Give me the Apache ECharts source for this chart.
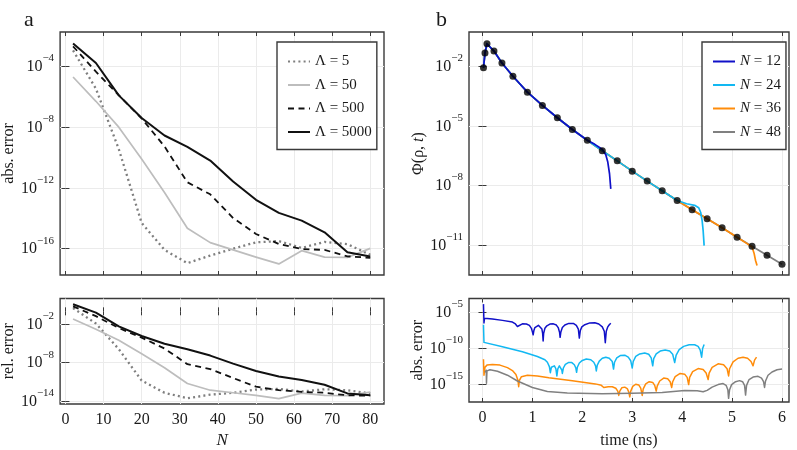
<!DOCTYPE html>
<html>
<head>
<meta charset="utf-8">
<title>error convergence</title>
<script src="https://cdn.jsdelivr.net/npm/echarts@6/dist/echarts.min.js"></script>
<style>
html, body { margin: 0; padding: 0; background: #fff; }
#chart { width: 797px; height: 450px; }
</style>
</head>
<body>
<div id="chart"></div>
<script>
//------------------------ data (y values are log10) ------------------//
var nValues = [2, 8, 14, 20, 26, 32, 38, 44, 50, 56, 62, 68, 74, 80];

// panel a, abs. error
var absLam5    = [-2.95, -5.47, -9.45, -14.3, -16.08, -16.95, -16.45, -16.0, -15.58, -15.5, -15.95, -15.55, -15.7, -16.4];
var absLam50   = [-4.7, -6.3, -8.0, -10.1, -12.3, -14.65, -15.6, -16.08, -16.55, -17.0, -16.13, -16.55, -16.57, -15.98];
var absLam500  = [-2.68, -4.35, -5.9, -7.43, -9.27, -11.63, -12.42, -13.98, -15.03, -15.69, -16.02, -16.08, -16.5, -16.6];
var absLam5000 = [-2.5, -3.78, -5.91, -7.4, -8.55, -9.3, -10.2, -11.58, -12.78, -13.64, -14.15, -14.92, -16.24, -16.51];

// panel a, rel. error
var relLam5    = [0.5, -1.9, -5.9, -10.8, -12.7, -13.55, -13.0, -12.7, -12.2, -12.1, -12.5, -12.15, -12.3, -12.8];
var relLam50   = [-1.2, -2.8, -4.5, -6.6, -8.8, -11.25, -12.3, -12.7, -13.1, -13.6, -12.75, -13.1, -13.15, -12.6];
var relLam500  = [0.78, -0.75, -2.6, -4.1, -5.8, -8.25, -9.0, -10.4, -11.75, -12.3, -12.55, -12.7, -13.1, -13.15];
var relLam5000 = [1.1, -0.2, -2.35, -3.85, -5.05, -5.9, -6.9, -8.15, -9.3, -10.15, -10.7, -11.45, -12.8, -13.1];

// panel b, reference points of Phi(rho, t)
var markTimes = [0.02, 0.05, 0.09, 0.23, 0.39, 0.61, 0.9, 1.2, 1.5, 1.8, 2.1, 2.4, 2.7, 3.0, 3.3, 3.6, 3.9, 4.2, 4.5, 4.8, 5.1, 5.4, 5.7, 6.0];
var markPhi   = [-2.07, -1.33, -0.86, -1.23, -1.83, -2.5, -3.3, -3.97, -4.59, -5.18, -5.72, -6.25, -6.76, -7.28, -7.78, -8.27, -8.76, -9.22, -9.68, -10.13, -10.61, -11.06, -11.52, -11.97];

// panel b, approximations [t, log10 Phi]
var phiN12 = [[0.02, -2.07], [0.05, -1.33], [0.09, -0.86], [0.23, -1.23], [0.39, -1.83], [0.61, -2.5], [0.9, -3.3], [1.2, -3.97], [1.5, -4.59], [1.8, -5.18], [2.1, -5.72],
    [2.25, -5.93], [2.4, -6.18], [2.47, -6.45], [2.51, -6.82], [2.545, -7.41], [2.57, -8.17]];
var phiN24 = [[0.02, -2.07], [0.05, -1.33], [0.09, -0.86], [0.23, -1.23], [0.39, -1.83], [0.61, -2.5], [0.9, -3.3], [1.2, -3.97], [1.5, -4.59], [1.8, -5.18], [2.1, -5.72],
    [2.4, -6.25], [2.7, -6.76], [3.0, -7.28], [3.3, -7.78], [3.6, -8.27], [3.9, -8.76],
    [4.09, -8.92], [4.25, -9.0], [4.33, -9.12], [4.37, -9.35], [4.4, -9.77], [4.42, -10.27], [4.44, -11.03]];
var phiN36 = [[0.02, -2.07], [0.05, -1.33], [0.09, -0.86], [0.23, -1.23], [0.39, -1.83], [0.61, -2.5], [0.9, -3.3], [1.2, -3.97], [1.5, -4.59], [1.8, -5.18], [2.1, -5.72],
    [2.4, -6.25], [2.7, -6.76], [3.0, -7.28], [3.3, -7.78], [3.6, -8.27], [3.9, -8.76], [4.2, -9.22], [4.5, -9.68], [4.8, -10.13], [5.1, -10.61],
    [5.3, -10.93], [5.4, -11.1], [5.44, -11.41], [5.47, -11.78], [5.5, -12.03]];
var phiN48 = [[0.02, -2.07], [0.05, -1.33], [0.09, -0.86], [0.23, -1.23], [0.39, -1.83], [0.61, -2.5], [0.9, -3.3], [1.2, -3.97], [1.5, -4.59], [1.8, -5.18], [2.1, -5.72],
    [2.4, -6.25], [2.7, -6.76], [3.0, -7.28], [3.3, -7.78], [3.6, -8.27], [3.9, -8.76], [4.2, -9.22], [4.5, -9.68], [4.8, -10.13], [5.1, -10.61],
    [5.4, -11.06], [5.7, -11.52], [6.0, -11.97]];

// panel b, abs. error [t, log10 err]
var errN12 = [[0.02, -3.85], [0.03, -6.45], [0.04, -5.8], [0.2, -5.9], [0.4, -6.1], [0.6, -6.33], [0.66, -6.6], [0.7, -6.95], [0.74, -6.7], [0.8, -6.58],
    [0.88, -6.6], [0.94, -6.8], [0.98, -7.2], [1.0, -7.7], [1.015, -8.1], [1.03, -7.5], [1.05, -7.1], [1.08, -6.85], [1.12, -6.78], [1.16, -6.9], [1.19, -7.3],
    [1.205, -7.9], [1.215, -8.95], [1.225, -7.9], [1.25, -7.2], [1.29, -6.85], [1.35, -6.62], [1.42, -6.58], [1.48, -6.75], [1.52, -7.15], [1.545, -7.8], [1.555, -8.45],
    [1.57, -7.7], [1.6, -7.1], [1.65, -6.75], [1.73, -6.52], [1.82, -6.52], [1.88, -6.8], [1.92, -7.3], [1.94, -8.55], [1.96, -7.5], [1.99, -7.0], [2.05, -6.7],
    [2.15, -6.45], [2.25, -6.42], [2.33, -6.6], [2.4, -7.0], [2.44, -7.6], [2.46, -9.2], [2.48, -7.6], [2.51, -7.0], [2.54, -6.7], [2.57, -6.5]];
var errN24 = [[0.02, -6.7], [0.03, -9.15], [0.05, -9.2], [0.4, -9.75], [0.8, -10.45], [1.1, -11.1], [1.25, -11.55], [1.3, -11.9], [1.34, -12.5], [1.36, -13.35],
    [1.38, -12.6], [1.41, -12.35], [1.44, -12.4], [1.47, -12.8], [1.49, -13.8], [1.51, -12.8], [1.54, -12.4], [1.57, -12.6], [1.59, -13.0], [1.6, -13.45], [1.62, -12.7],
    [1.66, -12.2], [1.72, -11.95], [1.79, -11.95], [1.84, -12.25], [1.87, -12.7], [1.885, -13.3], [1.9, -12.6], [1.94, -12.0], [2.0, -11.65], [2.08, -11.45],
    [2.17, -11.55], [2.23, -11.9], [2.265, -12.4], [2.28, -13.1], [2.3, -12.3], [2.34, -11.75], [2.4, -11.35], [2.47, -11.2], [2.54, -11.35], [2.6, -11.8],
    [2.625, -12.85], [2.645, -11.9], [2.69, -11.3], [2.76, -10.98], [2.85, -10.92], [2.92, -11.2], [2.97, -11.7], [3.0, -12.7], [3.02, -11.8], [3.07, -11.1],
    [3.15, -10.75], [3.25, -10.63], [3.33, -10.8], [3.38, -11.3], [3.41, -12.4], [3.43, -11.4], [3.48, -10.75], [3.56, -10.35], [3.66, -10.2], [3.75, -10.35],
    [3.81, -10.8], [3.85, -11.95], [3.88, -10.9], [3.94, -10.15], [4.03, -9.7], [4.14, -9.48], [4.25, -9.48], [4.32, -9.7], [4.36, -10.2], [4.39, -11.2],
    [4.41, -10.0], [4.44, -9.45]];
var errN36 = [[0.02, -11.5], [0.03, -13.7], [0.05, -12.6], [0.09, -12.3], [0.2, -12.2], [0.35, -12.3], [0.5, -12.65], [0.6, -13.05], [0.67, -13.6], [0.71, -14.4],
    [0.725, -15.3], [0.74, -14.4], [0.78, -13.9], [0.9, -13.7], [1.1, -13.8], [1.33, -14.05], [1.8, -14.45], [2.26, -14.9], [2.38, -15.1], [2.43, -15.4], [2.47, -15.5],
    [2.52, -15.3], [2.6, -15.3], [2.67, -15.5], [2.71, -15.9], [2.73, -16.5], [2.75, -15.9], [2.79, -15.45], [2.85, -15.35], [2.9, -15.55], [2.93, -16.0], [2.95, -16.7],
    [2.97, -15.9], [3.01, -15.25], [3.07, -14.95], [3.13, -15.05], [3.17, -15.5], [3.2, -16.5], [3.22, -15.6], [3.27, -14.9], [3.34, -14.6], [3.41, -14.7], [3.45, -15.1],
    [3.48, -15.9], [3.5, -15.2], [3.55, -14.5], [3.63, -14.1], [3.71, -14.2], [3.76, -14.6], [3.79, -15.4], [3.81, -14.6], [3.86, -13.9], [3.96, -13.45], [4.05, -13.55],
    [4.1, -14.0], [4.13, -15.0], [4.15, -14.0], [4.21, -13.2], [4.32, -12.78], [4.42, -12.9], [4.48, -13.4], [4.52, -14.3], [4.54, -13.4], [4.6, -12.6], [4.72, -12.12],
    [4.83, -12.25], [4.9, -12.8], [4.93, -13.8], [4.95, -12.8], [5.02, -11.85], [5.12, -11.35], [5.22, -11.2], [5.31, -11.35], [5.38, -11.8], [5.42, -12.4],
    [5.45, -11.6], [5.49, -11.2]];
var errN48 = [[0.05, -13.3], [0.075, -13.0], [0.08, -14.8], [0.09, -13.1], [0.15, -12.95], [0.3, -13.15], [0.5, -13.7], [0.7, -14.5], [1.0, -15.4], [1.3, -15.95],
    [1.7, -16.15], [2.4, -16.25], [3.0, -16.2], [3.6, -16.1], [4.05, -15.8], [4.3, -15.85], [4.42, -16.0], [4.5, -15.8], [4.6, -15.35], [4.72, -15.0], [4.82, -14.85],
    [4.88, -15.1], [4.915, -15.7], [4.93, -16.9], [4.95, -15.7], [4.99, -15.0], [5.07, -14.6], [5.15, -14.45], [5.21, -14.6], [5.25, -15.1], [5.27, -16.45],
    [5.29, -15.1], [5.34, -14.3], [5.42, -13.95], [5.52, -13.85], [5.59, -14.1], [5.63, -14.6], [5.65, -15.4], [5.67, -14.5], [5.72, -13.7], [5.8, -13.25],
    [5.9, -12.95], [6.0, -12.85]];

// tick positions
var nTicks = [0, 10, 20, 30, 40, 50, 60, 70, 80];
var timeTicks = [0, 1, 2, 3, 4, 5, 6];
var absTicksA = [-16, -12, -8, -4];
var relTicksA = [-14, -8, -2];
var phiTicksB = [-11, -8, -5, -2];
var absTicksB = [-15, -10, -5];

//------------------------ helpers ------------------//
var serif = "'Liberation Serif', 'DejaVu Serif', serif";
var frameColor = '#3a3a3a';
var gridColor = '#ebebeb';
var textColor = '#1a1a1a';

function zip(xs, ys)
{
    return xs.map(function(x, i){ return [x, ys[i]]; });
}

function powLabel(v)
{
    return '{b|10}{s|\u2212' + Math.round(-v) + '}';
}

var powRich = {
    b: { fontFamily: serif, fontSize: 16, color: textColor, verticalAlign: 'bottom', lineHeight: 22 },
    s: { fontFamily: serif, fontSize: 11, color: textColor, verticalAlign: 'top', lineHeight: 22 }
};

function makeAxis(kind, grid, min, max, ticks, opt)
{
    opt = opt || {};
    var ax = {
        type: 'value',
        gridIndex: grid,
        min: min,
        max: max,
        position: opt.position,
        axisLine: { show: false },
        axisTick: { show: true, inside: true, length: 4, customValues: ticks, lineStyle: { color: frameColor, width: 1 } },
        splitLine: { show: !opt.mirror, lineStyle: { color: gridColor, width: 1 } },
        axisLabel: { show: !!opt.labels, customValues: ticks, fontFamily: serif, fontSize: 16, color: textColor, margin: opt.margin || 6 },
        name: opt.name || '',
        nameLocation: 'middle',
        nameGap: opt.nameGap || 30,
        nameTextStyle: opt.nameStyle || { fontFamily: serif, fontSize: 16, color: textColor }
    };
    if (kind == 'y')
    {
        ax.nameRotate = 90;
        if (opt.labels)
        {
            ax.axisLabel.formatter = powLabel;
            ax.axisLabel.rich = powRich;
            ax.axisLabel.padding = [0, 0, 5, 0];
        }
    }
    return ax;
}

function lineSeries(name, xi, data, color, width, type, z)
{
    return {
        type: 'line', name: name, xAxisIndex: xi, yAxisIndex: xi, data: data,
        symbol: 'none', smooth: false, z: z || 2, animation: false,
        lineStyle: { color: color, width: width, type: type || 'solid', cap: 'butt', join: 'round' },
        itemStyle: { color: color }
    };
}

//------------------------ chart ------------------//
var grids = [
    { left: 58, top: 32, width: 326, height: 243 },
    { left: 58, top: 298.5, width: 326, height: 109 },
    { left: 469, top: 32, width: 320, height: 243 },
    { left: 469, top: 298.5, width: 320, height: 109 }
];
grids.forEach(function(g){
    g.show = true;
    g.borderColor = frameColor;
    g.borderWidth = 1.4;
});

var nRange = [-1.4, 83.6];
var tRange = [-0.27, 6.14];

var xAxes = [
    makeAxis('x', 0, nRange[0], nRange[1], nTicks, {}),
    makeAxis('x', 1, nRange[0], nRange[1], nTicks, { labels: true, margin: 8, name: 'N', nameGap: 28,
        nameStyle: { fontFamily: serif, fontSize: 17, fontStyle: 'italic', color: textColor } }),
    makeAxis('x', 2, tRange[0], tRange[1], timeTicks, {}),
    makeAxis('x', 3, tRange[0], tRange[1], timeTicks, { labels: true, margin: 8, name: 'time (ns)', nameGap: 31 })
];
var yAxes = [
    makeAxis('y', 0, -17.73, -1.74, absTicksA, { labels: true, name: 'abs. error', nameGap: 40 }),
    makeAxis('y', 1, -14.45, 2.0, relTicksA, { labels: true, name: 'rel. error', nameGap: 40 }),
    makeAxis('y', 2, -12.51, -0.27, phiTicksB, { labels: true, name: '{r|\u03A6(\u03C1, }{i|t}{r|)}', nameGap: 40,
        nameStyle: { rich: { r: { fontFamily: serif, fontSize: 16, color: textColor }, i: { fontFamily: serif, fontSize: 16, fontStyle: 'italic', color: textColor } } } }),
    makeAxis('y', 3, -17.41, -3.07, absTicksB, { labels: true, name: 'abs. error', nameGap: 41 })
];
// mirrored ticks on top and right edges
for (var g = 0; g < 4; g++)
{
    var xr = g < 2 ? nRange : tRange;
    var xt = g < 2 ? nTicks : timeTicks;
    xAxes.push(makeAxis('x', g, xr[0], xr[1], xt, { mirror: true, position: 'top' }));
    yAxes.push(makeAxis('y', g, yAxes[g].min, yAxes[g].max, yAxes[g].axisTick.customValues, { mirror: true, position: 'right' }));
}

var lamNames = ['\u039B = 5', '\u039B = 50', '\u039B = 500', '\u039B = 5000'];
var nNames = ['N = 12', 'N = 24', 'N = 36', 'N = 48'];
var nColors = ['#1010c8', '#12b8f2', '#ff8c0a', '#808080'];

var series = [
    lineSeries(lamNames[0], 0, zip(nValues, absLam5), '#7f7f7f', 2.3, [2, 3.2]),
    lineSeries(lamNames[1], 0, zip(nValues, absLam50), '#bdbdbd', 1.7),
    lineSeries(lamNames[2], 0, zip(nValues, absLam500), '#111', 1.8, [6, 4.5]),
    lineSeries(lamNames[3], 0, zip(nValues, absLam5000), '#111', 2),
    lineSeries(lamNames[0], 1, zip(nValues, relLam5), '#7f7f7f', 2.3, [2, 3.2]),
    lineSeries(lamNames[1], 1, zip(nValues, relLam50), '#bdbdbd', 1.7),
    lineSeries(lamNames[2], 1, zip(nValues, relLam500), '#111', 1.8, [6, 4.5]),
    lineSeries(lamNames[3], 1, zip(nValues, relLam5000), '#111', 2),
    lineSeries(nNames[3], 2, phiN48, nColors[3], 1.7, 'solid', 2),
    lineSeries(nNames[2], 2, phiN36, nColors[2], 1.7, 'solid', 3),
    lineSeries(nNames[1], 2, phiN24, nColors[1], 1.7, 'solid', 4),
    lineSeries(nNames[0], 2, phiN12, nColors[0], 1.7, 'solid', 5),
    {
        type: 'scatter', name: 'points', xAxisIndex: 2, yAxisIndex: 2, z: 6, animation: false,
        data: zip(markTimes, markPhi), symbol: 'circle', symbolSize: 7,
        itemStyle: { color: '#000' }
    },
    lineSeries(nNames[0], 3, errN12, nColors[0], 1.5),
    lineSeries(nNames[1], 3, errN24, nColors[1], 1.5),
    lineSeries(nNames[2], 3, errN36, nColors[2], 1.5),
    lineSeries(nNames[3], 3, errN48, nColors[3], 1.5)
];

function legendBox(names, left, fmt)
{
    return {
        data: names, left: left, top: 42, orient: 'vertical',
        itemWidth: 22, itemHeight: 14, itemGap: 8.5,
        padding: [12, 5, 10, 10],
        borderColor: frameColor, borderWidth: 1.4, backgroundColor: '#fff',
        selectedMode: false,
        formatter: fmt,
        itemStyle: { color: 'rgba(0,0,0,0)', borderWidth: 0 },
        textStyle: {
            fontFamily: serif, fontSize: 15, color: textColor,
            rich: { i: { fontFamily: serif, fontSize: 15, fontStyle: 'italic', color: textColor } }
        }
    };
}

var option = {
    animation: false,
    backgroundColor: '#fff',
    title: [
        { text: 'a', left: 19, top: 4, textStyle: { fontFamily: serif, fontSize: 22, fontWeight: 'normal', color: textColor } },
        { text: 'b', left: 431, top: 4, textStyle: { fontFamily: serif, fontSize: 22, fontWeight: 'normal', color: textColor } }
    ],
    legend: [
        legendBox(lamNames, 277, function(name){ return name; }),
        legendBox(nNames, 702, function(name){ return '{i|N} = ' + name.split('= ')[1]; })
    ],
    grid: grids,
    xAxis: xAxes,
    yAxis: yAxes,
    series: series
};

var myChart = echarts.init(document.getElementById('chart'));
myChart.setOption(option);
</script>
</body>
</html>
